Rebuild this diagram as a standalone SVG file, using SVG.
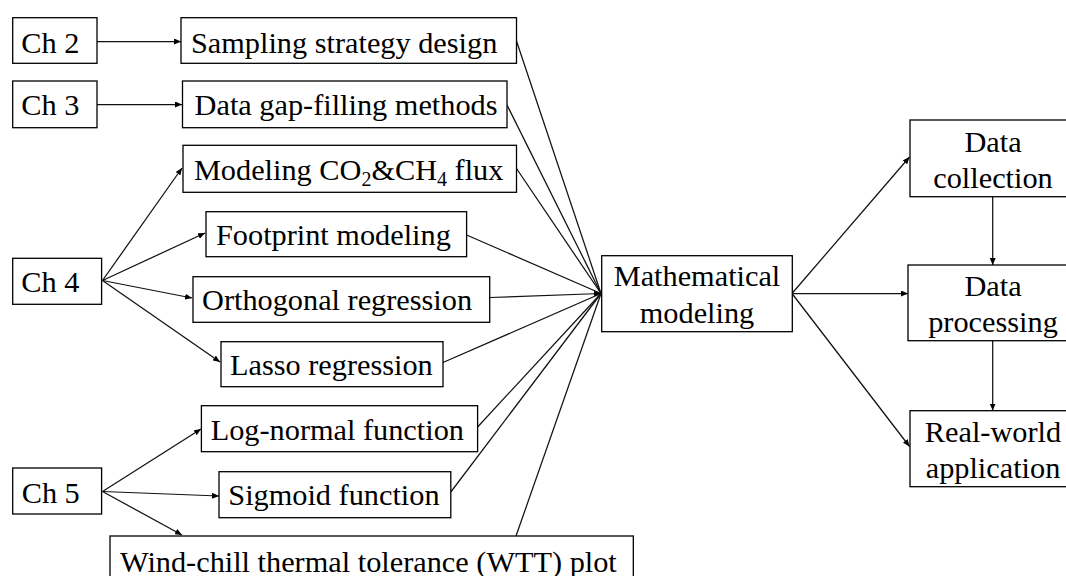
<svg xmlns="http://www.w3.org/2000/svg" width="1066" height="576" viewBox="0 0 1066 576">
<style>
.box{fill:#fff;stroke:#000;stroke-width:1.3}
.t{font-family:"Liberation Serif","Times New Roman",serif;font-size:30.3px;fill:#000}
.m{text-anchor:middle}
.c{fill:none;stroke:#111;stroke-width:1.25}
.a{marker-end:url(#ah)}
</style>
<defs>
<marker id="ah" markerUnits="userSpaceOnUse" markerWidth="8" markerHeight="6" refX="7" refY="3" orient="auto">
<path d="M0,0 L7,3 L0,6 z" fill="#000"/>
</marker>
</defs>
<rect width="1066" height="576" fill="#fff"/>
<g id="connectors">
<line class="c a" x1="97" y1="41.5" x2="181" y2="41.5"/>
<line class="c a" x1="97" y1="104.5" x2="182" y2="104.5"/>
<line class="c a" x1="102.5" y1="280.5" x2="182" y2="168"/>
<line class="c a" x1="102.5" y1="280.5" x2="205" y2="233"/>
<line class="c a" x1="102.5" y1="280.5" x2="192" y2="298"/>
<line class="c a" x1="102.5" y1="280.5" x2="220" y2="362"/>
<line class="c a" x1="102.5" y1="491.5" x2="201" y2="429"/>
<line class="c a" x1="102.5" y1="491.5" x2="219" y2="496"/>
<line class="c a" x1="102.5" y1="491.5" x2="182" y2="535"/>
<line class="c" x1="516.5" y1="41" x2="601" y2="293.5"/>
<line class="c" x1="507" y1="105" x2="601" y2="293.5"/>
<line class="c" x1="516.5" y1="168.5" x2="601" y2="293.5"/>
<line class="c" x1="466.6" y1="235" x2="601" y2="293.5"/>
<line class="c a" x1="489.7" y1="297.5" x2="601" y2="293.5"/>
<line class="c" x1="443" y1="362.5" x2="601" y2="293.5"/>
<line class="c" x1="477.6" y1="427" x2="601" y2="293.5"/>
<line class="c" x1="450.8" y1="492" x2="601" y2="293.5"/>
<line class="c" x1="516" y1="536" x2="601" y2="293.5"/>
<line class="c a" x1="792" y1="293.5" x2="909.5" y2="157"/>
<line class="c a" x1="792" y1="293.5" x2="908" y2="293.5"/>
<line class="c a" x1="792" y1="293.5" x2="909.5" y2="446.5"/>
<line class="c a" x1="992.7" y1="197" x2="992.7" y2="265"/>
<line class="c a" x1="992.7" y1="341" x2="992.7" y2="410.5"/>
</g>
<g id="ch2"><rect class="box" x="12.7" y="17.7" width="84.3" height="45.6"/><text class="t" x="21.3" y="52.7">Ch 2</text></g>
<g id="ch3"><rect class="box" x="12.7" y="81" width="84.3" height="46.7"/><text class="t" x="21.3" y="115">Ch 3</text></g>
<g id="ch4"><rect class="box" x="12.7" y="258.3" width="88.9" height="46"/><text class="t" x="21.3" y="291.7">Ch 4</text></g>
<g id="ch5"><rect class="box" x="12.7" y="468" width="88.9" height="46"/><text class="t" x="21.7" y="502.7">Ch 5</text></g>
<g id="sampling"><rect class="box" x="181" y="17.7" width="335.5" height="45.6"/><text class="t" x="191" y="53.3">Sampling strategy design</text></g>
<g id="gapfill"><rect class="box" x="182.5" y="81" width="324.5" height="46.7"/><text class="t" x="194.6" y="115">Data gap-filling methods</text></g>
<g id="flux"><rect class="box" x="183" y="145.3" width="333.5" height="47"/><text class="t" x="193.9" y="180">Modeling CO<tspan font-size="20" dy="6">2</tspan><tspan dy="-6">&amp;CH</tspan><tspan font-size="20" dy="6">4</tspan><tspan dy="-6"> flux</tspan></text></g>
<g id="footprint"><rect class="box" x="206" y="211.7" width="260.6" height="45"/><text class="t" x="216" y="245">Footprint modeling</text></g>
<g id="orthogonal"><rect class="box" x="193" y="276.7" width="296.7" height="45.6"/><text class="t" x="202" y="309.5">Orthogonal regression</text></g>
<g id="lasso"><rect class="box" x="221" y="341.7" width="222" height="45"/><text class="t" x="230" y="375">Lasso regression</text></g>
<g id="lognormal"><rect class="box" x="201.4" y="405.7" width="276.2" height="46"/><text class="t" x="210.7" y="440">Log-normal function</text></g>
<g id="sigmoid"><rect class="box" x="219" y="471.7" width="231.8" height="46"/><text class="t" x="228.3" y="505">Sigmoid function</text></g>
<g id="wtt"><rect class="box" x="110" y="536" width="523.3" height="48"/><text class="t" x="120" y="571.5">Wind-chill thermal tolerance (WTT) plot</text></g>
<g id="math"><rect class="box" x="601.7" y="255.7" width="190.6" height="76"/><text class="t m" x="697" y="286">Mathematical</text><text class="t m" x="697" y="322.5">modeling</text></g>
<g id="collection"><rect class="box" x="910" y="120" width="170" height="76.7"/><text class="t m" x="993" y="151.5">Data</text><text class="t m" x="993" y="187.5">collection</text></g>
<g id="processing"><rect class="box" x="908" y="265" width="172" height="75.7"/><text class="t m" x="993" y="296">Data</text><text class="t m" x="993" y="331.7">processing</text></g>
<g id="realworld"><rect class="box" x="910" y="410.7" width="170" height="76"/><text class="t m" x="993" y="441.7">Real-world</text><text class="t m" x="993" y="477.7">application</text></g>
</svg>
